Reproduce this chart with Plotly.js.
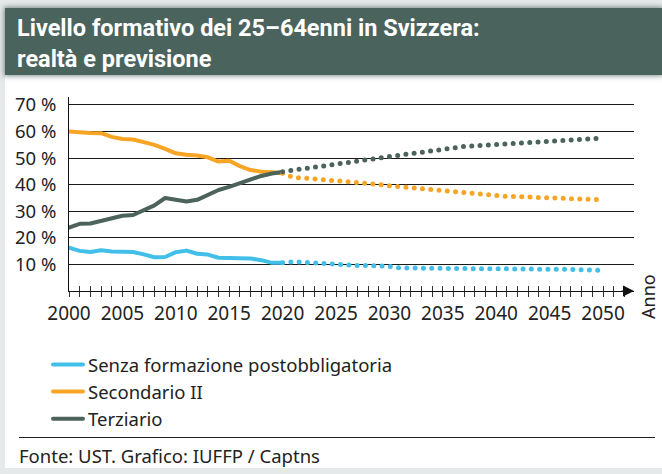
<!DOCTYPE html>
<html>
<head>
<meta charset="utf-8">
<script src="https://cdn.plot.ly/plotly-3.0.1.min.js"></script>
<style>
  html, body { margin: 0; padding: 0; }
  body { width: 662px; height: 474px; background: #e6e9e9; position: relative; overflow: hidden; }
  #panel { position: absolute; left: 5px; top: 8px; width: 657px; height: 460px; background: #ffffff; }
  #banner { position: absolute; left: 5px; top: 8px; width: 657px; height: 67px; background: #4b635d; box-shadow: 0 0 5px 1px rgba(75,99,93,0.7); }
  #sep { position: absolute; left: 19px; top: 437px; width: 636px; height: 1px; background: #222; }
  #chart { position: absolute; left: 0; top: 0; width: 662px; height: 474px; }
  .js-line { stroke-linecap: round !important; stroke-linejoin: round !important; }
</style>
</head>
<body>
<div id="panel"></div>
<div id="banner"></div>
<div id="sep"></div>
<div id="chart"></div>
<script>
// ---- data ----
const yearsHist = [2000, 2001, 2002, 2003, 2004, 2005, 2006, 2007, 2008, 2009, 2010,
                   2011, 2012, 2013, 2014, 2015, 2016, 2017, 2018, 2019, 2020];
const yearsProj = [2020, 2021, 2022, 2023, 2024, 2025, 2026, 2027, 2028, 2029, 2030,
                   2031, 2032, 2033, 2034, 2035, 2036, 2037, 2038, 2039, 2040,
                   2041, 2042, 2043, 2044, 2045, 2046, 2047, 2048, 2049, 2050];

const seriesNames = ["Senza formazione postobbligatoria", "Secondario II", "Terziario"];

const senzaHist = [16.3, 15.1, 14.7, 15.3, 14.9, 14.7, 14.7, 13.8, 12.7, 12.8, 14.6,
                   15.2, 14.0, 13.7, 12.5, 12.4, 12.4, 12.2, 11.6, 10.6, 10.6];
const secondHist = [60.0, 59.6, 59.5, 59.4, 58.0, 57.2, 57.0, 56.0, 55.0, 53.5, 51.8,
                    51.3, 51.0, 50.3, 48.7, 49.0, 47.0, 45.5, 44.9, 44.7, 44.4];
const terzHist = [23.8, 25.3, 25.4, 26.3, 27.4, 28.3, 28.6, 30.5, 32.2, 35.0, 34.2,
                  33.7, 34.3, 36.0, 38.0, 39.2, 40.5, 41.9, 43.3, 44.2, 44.8];

const senzaProj = [10.6, 11.0, 10.8, 10.5, 10.2, 10.0, 9.7, 9.6, 9.6, 9.6, 9.3,
                   8.7, 8.6, 8.6, 8.5, 8.5, 8.5, 8.4, 8.4, 8.4, 8.3,
                   8.3, 8.3, 8.3, 8.2, 8.2, 8.2, 8.1, 8.0, 7.9, 7.8];
const secondProj = [44.3, 42.8, 42.5, 42.2, 41.9, 41.6, 41.3, 40.9, 40.5, 40.1, 39.6,
                    39.2, 38.9, 38.4, 38.0, 37.6, 37.3, 36.8, 36.4, 36.0, 35.7,
                    35.6, 35.5, 35.4, 35.2, 35.1, 35.0, 34.8, 34.6, 34.5, 34.3];
const terzProj = [44.9, 45.5, 46.0, 46.7, 47.2, 47.7, 48.3, 48.9, 49.5, 50.0, 50.6,
                  51.2, 51.7, 52.2, 52.8, 53.4, 54.0, 54.4, 54.6, 54.9, 55.2,
                  55.4, 55.6, 55.8, 56.1, 56.3, 56.6, 56.8, 57.0, 57.2, 57.6];

const yTickVals = [10, 20, 30, 40, 50, 60, 70];
const yTickText = ["10 %", "20 %", "30 %", "40 %", "50 %", "60 %", "70 %"];

const colors = ["#41bfe9", "#f8a526", "#4b635b"];

// ---- traces ----
const hist = [senzaHist, secondHist, terzHist];
const proj = [senzaProj, secondProj, terzProj];
const traces = [];
for (let i = 0; i < 3; i++) {
  traces.push({
    x: yearsHist, y: hist[i], type: "scatter", mode: "lines", name: seriesNames[i],
    line: { color: colors[i], width: 4 }, hoverinfo: "skip"
  });
}
for (let i = 0; i < 3; i++) {
  traces.push({
    x: yearsProj, y: proj[i], type: "scatter", mode: "lines", showlegend: false,
    line: { color: colors[i], width: 5, dash: "0px,8.3px" }, hoverinfo: "skip"
  });
}
// helper axis for the upper half of the crossing year ticks
traces.push({ x: [2000], y: [0], xaxis: "x2", yaxis: "y", mode: "none", showlegend: false, hoverinfo: "skip" });

const fontFam = "'Noto Sans', 'Open Sans', sans-serif";

const layout = {
  width: 662, height: 474,
  paper_bgcolor: "rgba(0,0,0,0)", plot_bgcolor: "rgba(0,0,0,0)",
  margin: { l: 69, r: 28, t: 97, b: 183 },
  font: { family: fontFam, color: "#222", size: 18 },
  title: {
    text: "Livello formativo dei 25–64enni in Svizzera:<br>realtà e previsione",
    font: { family: "Roboto, 'Noto Sans', sans-serif", size: 23.5, color: "#ffffff", weight: 700 },
    xref: "container", yref: "container", x: 17 / 662, xanchor: "left",
    y: 1 - 36 / 474, yanchor: "top"
  },
  xaxis: {
    range: [2000, 2052.9], showgrid: false, zeroline: false,
    showline: true, linecolor: "#111", linewidth: 1,
    tickmode: "linear", tick0: 2000, dtick: 1, ticklabelstep: 5,
    ticks: "outside", ticklen: 5, tickwidth: 1, tickcolor: "#333",
    tickfont: { size: 19, color: "#222" }, fixedrange: true
  },
  xaxis2: {
    overlaying: "x", matches: "x", range: [2000, 2052.9], anchor: "y",
    showgrid: false, zeroline: false, showline: false, showticklabels: false,
    tickmode: "linear", tick0: 2000, dtick: 1, ticks: "inside", ticklen: 5,
    tickwidth: 1, tickcolor: "#333", side: "bottom"
  },
  yaxis: {
    range: [0, 73], showgrid: true, gridcolor: "#1a1a1a", gridwidth: 1,
    zeroline: false, showline: true, linecolor: "#111", linewidth: 1,
    tickmode: "array", tickvals: yTickVals, ticktext: yTickText,
    ticks: "", ticklabelstandoff: 8, tickfont: { size: 18.5, color: "#222" }, fixedrange: true
  },
  showlegend: true,
  legend: {
    x: (48 - 69) / 565, xanchor: "left", y: (291 - 346) / 194, yanchor: "top",
    orientation: "v", font: { size: 18.5, color: "#222" }, bgcolor: "rgba(0,0,0,0)",
    traceorder: "normal", tracegroupgap: 0
  },
  annotations: [
    { xref: "paper", yref: "paper", x: 1, y: 0, ax: -14, ay: 0, axref: "pixel", ayref: "pixel",
      text: "", showarrow: true, arrowhead: 2, arrowsize: 2.2, arrowwidth: 1, arrowcolor: "#111",
      standoff: 0, startstandoff: 0 },
    { xref: "paper", yref: "paper", x: (648 - 69) / 565, y: -6 / 194, xanchor: "center", yanchor: "middle",
      text: "Anno", textangle: -90, showarrow: false, font: { size: 18, color: "#222" } },
    { xref: "paper", yref: "paper", x: (17 - 69) / 565, y: (291 - 455) / 194, xanchor: "left", yanchor: "middle",
      text: "Fonte: UST. Grafico: IUFFP / Captns", showarrow: false, font: { size: 18.5, color: "#222" } }
  ],
  hovermode: false
};

Plotly.newPlot("chart", traces, layout, { staticPlot: true, displayModeBar: false });
</script>
</body>
</html>
